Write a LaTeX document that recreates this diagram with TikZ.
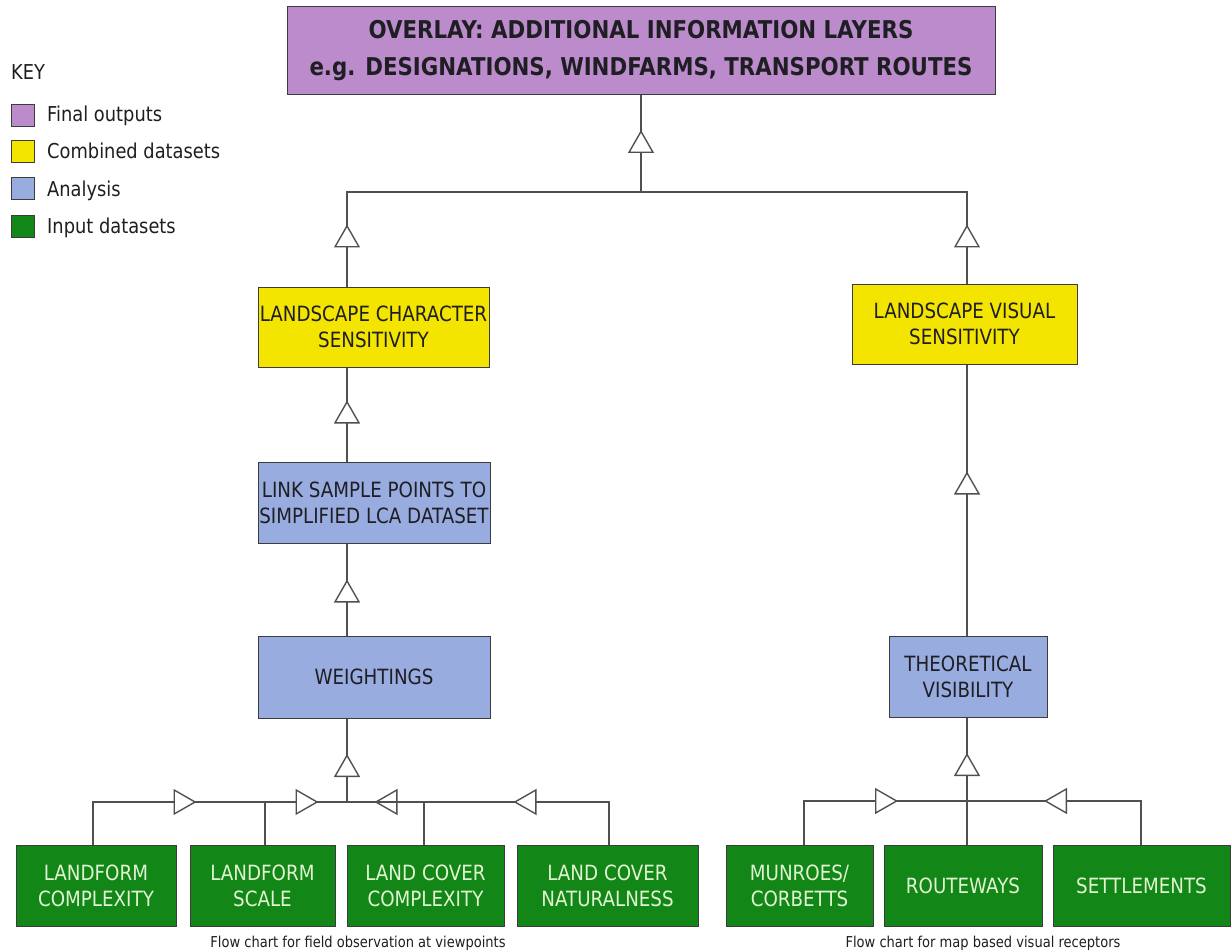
\documentclass[tikz,border=0pt]{standalone}
\usepackage{fontspec}
\setmainfont{DejaVu Sans}[FakeStretch=0.87]
\usetikzlibrary{arrows.meta,decorations.markings}
\definecolor{cPurple}{RGB}{187,139,204}
\definecolor{cYellow}{RGB}{243,229,0}
\definecolor{cBlue}{RGB}{152,172,224}
\definecolor{cGreen}{RGB}{18,134,22}
\definecolor{cPale}{RGB}{225,245,210}
\definecolor{cBorder}{RGB}{60,60,60}
\definecolor{cLine}{RGB}{80,80,80}
\definecolor{cText}{RGB}{30,30,35}
\tikzset{
  box/.style={draw=cBorder, line width=1pt, align=center, inner sep=0pt, text=cText,
    font=\fontsize{21}{26}\selectfont},
  finalbox/.style={box, fill=cPurple, font=\bfseries\fontsize{24.5}{37}\selectfont},
  combbox/.style={box, fill=cYellow},
  anabox/.style={box, fill=cBlue},
  inbox/.style={box, fill=cGreen, text=cPale},
  keysq/.style={draw=cBorder, line width=1pt, minimum width=23, minimum height=22, inner sep=0pt},
  keytext/.style={anchor=base west, inner sep=0pt, text=cText, font=\fontsize{20.5}{24}\selectfont},
  caption/.style={anchor=base, inner sep=0pt, text=cText, font=\fontsize{15}{18}\selectfont},
  conn/.style={draw=cLine, line width=1.4pt},
  tri/.tip={Triangle[fill=white, length=23pt, width=26pt]},
  gen/.style={conn, postaction={decorate, decoration={markings, mark=at position #1 with {\arrow{tri}}}}}
}
\begin{document}
\begin{tikzpicture}[x=1pt, y=-1pt]
\useasboundingbox (0,0) rectangle (1232,952);
% key
\node[keytext] (keyt) at (11,80) {KEY};
\node[keysq, fill=cPurple] (k1) at (22.5,115.5) {};
\node[keysq, fill=cYellow] (k2) at (22.5,152) {};
\node[keysq, fill=cBlue] (k3) at (22.5,189) {};
\node[keysq, fill=cGreen] (k4) at (22.5,227) {};
\node[keytext] (k1t) at (47,122) {Final outputs};
\node[keytext] (k2t) at (47,159) {Combined datasets};
\node[keytext] (k3t) at (47,197) {Analysis};
\node[keytext] (k4t) at (47,234) {Input datasets};
% boxes
\node[finalbox, minimum width=708, minimum height=88] (top) at (641,51)
  {OVERLAY: ADDITIONAL INFORMATION LAYERS\\e.g. DESIGNATIONS, WINDFARMS, TRANSPORT ROUTES};
\node[combbox, minimum width=231, minimum height=80] (LCS) at (373.5,327) {LANDSCAPE CHARACTER\\SENSITIVITY};
\node[combbox, minimum width=225, minimum height=80] (LVS) at (964.5,324) {LANDSCAPE VISUAL\\SENSITIVITY};
\node[anabox, minimum width=232, minimum height=81] (Link) at (374,502.5) {LINK SAMPLE POINTS TO\\SIMPLIFIED LCA DATASET};
\node[anabox, minimum width=232, minimum height=82] (W) at (374,677) {WEIGHTINGS};
\node[anabox, minimum width=158, minimum height=81] (TV) at (968,676.5) {THEORETICAL\\VISIBILITY};
\node[inbox, minimum width=160, minimum height=81] (LFC) at (96,885.5) {LANDFORM\\COMPLEXITY};
\node[inbox, minimum width=145, minimum height=81] (LFS) at (262.5,885.5) {LANDFORM\\SCALE};
\node[inbox, minimum width=157, minimum height=81] (LCC) at (425.5,885.5) {LAND COVER\\COMPLEXITY};
\node[inbox, minimum width=181, minimum height=81] (LCN) at (607.5,885.5) {LAND COVER\\NATURALNESS};
\node[inbox, minimum width=147, minimum height=81] (MC) at (799.5,885.5) {MUNROES/\\CORBETTS};
\node[inbox, minimum width=158, minimum height=81] (RW) at (963,885.5) {ROUTEWAYS};
\node[inbox, minimum width=177, minimum height=81] (ST) at (1141.5,885.5) {SETTLEMENTS};
% captions
\node[caption] (capL) at (358,947) {Flow chart for field observation at viewpoints};
\node[caption] (capR) at (983,947) {Flow chart for map based visual receptors};
% junctions
\coordinate (jTop) at (641,192);
\coordinate (jL) at (347,802);
\coordinate (jR) at (967,801);
\coordinate (xLFC) at (93,0);
\coordinate (xLFS) at (265,0);
\coordinate (xLCC) at (424,0);
\coordinate (xLCN) at (609,0);
\coordinate (xMC) at (804,0);
\coordinate (xST) at (1141,0);
% connectors
\draw[gen=62pt] (jTop) -- (top.south);
\draw[gen=62pt] (LCS.north -| jL) |- (jTop);
\draw[gen=59pt] (LVS.north -| jR) |- (jTop);
\draw[gen=61pt] (Link.north -| jL) -- (LCS.south -| jL);
\draw[gen=56pt] (W.north -| jL) -- (Link.south -| jL);
\draw[gen=48pt] (jL) -- (W.south -| jL);
\draw[gen=146pt] (LFC.north -| xLFC) |- (jL);
\draw[gen=96pt] (LFS.north -| xLFS) |- (jL);
\draw[gen=92pt] (LCC.north -| xLCC) |- (jL);
\draw[gen=138pt] (LCN.north -| xLCN) |- (jL);
\draw[gen=164pt] (TV.north -| jR) -- (LVS.south -| jR);
\draw[gen=48pt] (jR) -- (TV.south -| jR);
\draw[conn] (RW.north -| jR) -- (jR);
\draw[gen=137.5pt] (MC.north -| xMC) |- (jR);
\draw[gen=140.5pt] (ST.north -| xST) |- (jR);
\end{tikzpicture}
\end{document}
